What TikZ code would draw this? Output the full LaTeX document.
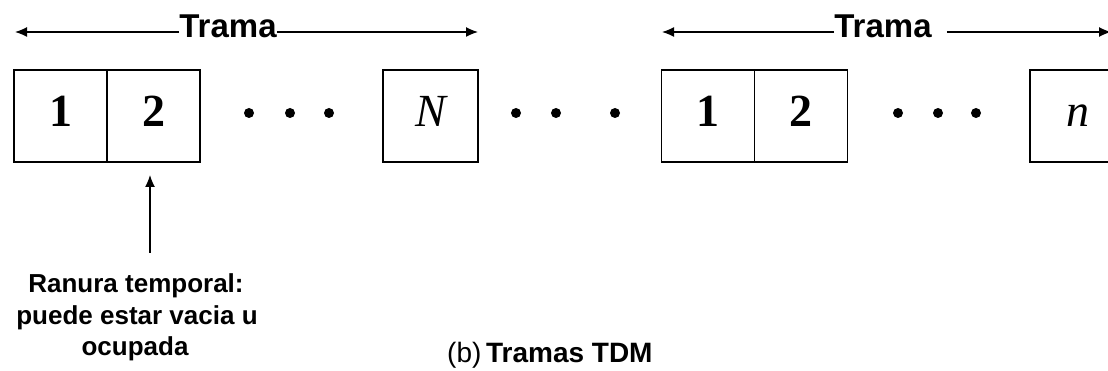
\documentclass[tikz,border=0pt]{standalone}
\usepackage{fontspec}
\setmainfont{Liberation Serif}
\newfontfamily\arial{Liberation Sans}
\usetikzlibrary{arrows.meta}
\tikzset{
  slot/.style={draw, line width=1.6pt, minimum width=93pt, minimum height=92pt, inner sep=0pt, outer sep=0pt},
  num/.style={font=\fontsize{46}{46}\selectfont\bfseries, inner sep=0pt, anchor=base},
  inum/.style={font=\fontsize{46}{46}\selectfont\itshape, inner sep=0pt, anchor=base},
  dot/.style={circle, fill=black, inner sep=0pt, minimum size=10pt},
  trama/.style={font=\arial\fontsize{33}{33}\selectfont\bfseries, inner sep=0pt, anchor=base},
  lab/.style={font=\arial\fontsize{26}{26}\selectfont\bfseries, inner sep=0pt, anchor=base},
  arr/.style={line width=1.3pt, -{Latex[length=12pt,width=10pt]}},
}
\begin{document}
\begin{tikzpicture}[x=1pt,y=-1pt]
\useasboundingbox (0,0) rectangle (1108,371);
\clip (0,0) rectangle (1108,371);
% frame 1
\node[slot] (b1) at (60.5,116) {};
\node[slot] (b2) at (153.5,116) {};
\node[num] (t1) at (b1 |- 0,127) {1};
\node[num] (t2) at (b2 |- 0,127) {2};
\node[dot] (d1) at (249,113) {};
\node[dot] (d2) at (290,113) {};
\node[dot] (d3) at (329,113) {};
\node[slot, minimum width=95pt] (bN) at (430.5,116) {};
\node[inum] (tN) at (bN |- 0,127) {N};
% between
\node[dot] (d4) at (516,113) {};
\node[dot] (d5) at (556,113) {};
\node[dot] (d6) at (615,113) {};
% frame 2
\node[slot] (c1) at (708,116) {};
\node[slot] (c2) at (801,116) {};
\node[num] (u1) at (c1 |- 0,127) {1};
\node[num] (u2) at (c2 |- 0,127) {2};
\node[dot] (d7) at (898,113) {};
\node[dot] (d8) at (938,113) {};
\node[dot] (d9) at (976,113) {};
\node[slot, minimum width=95pt] (cn) at (1077.5,116) {};
\node[inum] (un) at (cn |- 0,127) {n};
% Trama arrows
\node[trama] (tr1) at (228,38) {Trama};
\coordinate (l1) at (15,32);
\coordinate (r1) at (478,32);
\draw[arr] (tr1.west |- l1) -- (l1);
\draw[arr] (tr1.east |- r1) -- (r1);
\node[trama] (tr2) at (883,38) {Trama};
\coordinate (l2) at (662,32);
\coordinate (r2) at (1111,32);
\draw[arr] (tr2.west |- l2) -- (l2);
\draw[arr, shorten <=15pt] (tr2.east |- r2) -- (r2);
% slot label
\node[lab] (la1) at (136,293) {Ranura temporal:};
\node[lab] (la2) at (137,324) {puede estar vacia u};
\node[lab] (la3) at (135,355) {ocupada};
\coordinate (ab) at (150,253);
\draw[arr, shorten >=13pt] (ab) -- (ab |- b2.south);
% caption
\node[font=\arial\fontsize{28}{28}\selectfont, inner sep=0pt, anchor=base west] (cap) at (447,362) {(b)\,\textbf{Tramas TDM}};
\end{tikzpicture}
\end{document}
